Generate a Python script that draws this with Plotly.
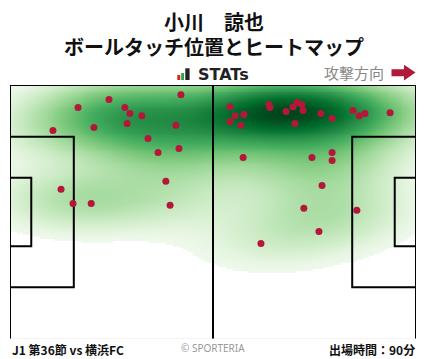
import numpy as np
import plotly.graph_objects as go

# ---- data: ball touch positions (pitch metres, x: 0-105 attacking right, y: 0-68 from top) ----
touch_x = [44.2, 17.6, 25.6, 29.7, 31.0, 34.1, 30.3, 21.7, 11.1, 42.9, 35.7, 43.7, 38.3,
           40.3, 13.2, 16.3, 21.0, 41.4,
           56.9, 58.2, 60.5, 56.9, 59.7, 67.0, 67.2, 71.4, 73.2, 74.2, 75.5, 75.8, 73.7,
           80.4, 83.3, 88.7, 90.3, 91.8, 98.3, 60.3, 78.1, 83.3, 83.3, 80.7, 76.0, 89.7,
           79.9, 64.9]
touch_y = [2.6, 6.0, 3.9, 6.0, 7.6, 8.2, 10.3, 11.4, 12.2, 10.8, 14.3, 17.0, 18.1,
           25.8, 27.9, 31.7, 31.7, 32.2,
           5.8, 8.2, 7.9, 9.8, 10.8, 5.2, 6.0, 7.1, 5.8, 4.7, 5.2, 6.8, 10.3,
           7.6, 9.0, 6.8, 8.2, 7.6, 7.4, 19.4, 19.4, 18.1, 20.2, 26.9, 33.0, 33.5,
           39.2, 42.4]

title_name = "小川　諒也"
title_sub = "ボールタッチ位置とヒートマップ"
match_label = "J1 第36節 vs 横浜FC"
minutes_label = "出場時間：90分"
credit_label = "© SPORTERIA"
direction_label = "攻撃方向"
logo_label = "STATs"

# pitch geometry (metres)
PL, PW = 105.0, 68.0
PEN_D, PEN_W = 16.5, 40.32
GA_D, GA_W = 5.5, 18.32

# ---- kernel density estimate (Scott's rule, full covariance) ----
X = np.array(touch_x)
Y = np.array(touch_y)
n = X.size
cov = np.cov(np.vstack([X, Y]))
kcov = cov * n ** (-2.0 / 6.0)
inv = np.linalg.inv(kcov)
det = np.linalg.det(kcov)
gx = np.linspace(0, PL, 211)
gy = np.linspace(0, PW, 137)
GX, GY = np.meshgrid(gx, gy)
dx = GX[..., None] - X
dy = GY[..., None] - Y
q = inv[0, 0] * dx * dx + 2 * inv[0, 1] * dx * dy + inv[1, 1] * dy * dy
dens = np.exp(-0.5 * q).sum(-1) / (n * 2 * np.pi * np.sqrt(det))
rel = dens / dens.max()
THRESH = 0.035
GAMMA = 0.65
zv = rel ** GAMMA
z = np.where(rel >= THRESH, zv, np.nan)
zmin = (THRESH ** GAMMA) * 0.6

greens = ["#f7fcf5", "#e5f5e0", "#c7e9c0", "#a1d99b", "#74c476",
          "#41ab5d", "#238b45", "#006d2c", "#00441b"]
cs = [[i / (len(greens) - 1), c] for i, c in enumerate(greens)]

fig = go.Figure()
fig.add_trace(go.Heatmap(x=gx, y=gy, z=z, colorscale=cs, zmin=zmin, zmax=1.0,
                         zsmooth="best", showscale=False, hoverinfo="skip"))

# pitch lines
lx, ly = [], []
def seg(pts):
    for p in pts:
        lx.append(p[0]); ly.append(p[1])
    lx.append(None); ly.append(None)

seg([(0, PW), (0, 0), (PL, 0), (PL, PW)])
seg([(PL / 2, 0), (PL / 2, PW)])
for side in (0, 1):
    for d, w in ((PEN_D, PEN_W), (GA_D, GA_W)):
        x0 = 0 if side == 0 else PL
        x1 = d if side == 0 else PL - d
        y0, y1 = (PW - w) / 2, (PW + w) / 2
        seg([(x0, y0), (x1, y0), (x1, y1), (x0, y1)])

fig.add_trace(go.Scatter(x=lx, y=ly, mode="lines", line=dict(color="black", width=2),
                         hoverinfo="skip", showlegend=False))
fig.add_trace(go.Scatter(x=[0, PL], y=[PW, PW], mode="lines",
                         line=dict(color="#e6e6e6", width=1), hoverinfo="skip", showlegend=False))

fig.add_trace(go.Scatter(x=touch_x, y=touch_y, mode="markers",
                         marker=dict(color="#b5173a", size=7, line=dict(width=0)),
                         showlegend=False))

# ---- layout helpers (pixel -> paper) ----
W, H = 428, 359
ML, MR, MT, MB = 10, 12, 85, 20
PWpx = W - ML - MR
PHpx = H - MT - MB
def px(x):
    return (x - ML) / PWpx
def py(y):
    return (H - MB - y) / PHpx

JP = "Noto Sans CJK JP"
ann = []
def text(t, x, y, size, color="#111", anchor="center", family=JP):
    ann.append(dict(text=t, x=px(x), y=py(y), xref="paper", yref="paper",
                    xanchor=anchor, yanchor="middle", showarrow=False,
                    font=dict(family=family, size=size, color=color)))

text("<b>" + title_name + "</b>", 214, 21, 20)
text("<b>" + title_sub + "</b>", 214, 46, 20)
text("<b>" + logo_label + "</b>", 196, 74, 16, color="#222", anchor="left", family="DejaVu Sans")
text(direction_label, 386, 72, 15, color="#888", anchor="right")
text("<b>" + match_label + "</b>", 10, 349, 12, anchor="left")
text(credit_label, 213, 348, 10, color="#999", family="Noto Sans")
text("<b>" + minutes_label + "</b>", 417, 349, 12, anchor="right")

shapes = []
def rect(x0, y0, x1, y1, color):
    shapes.append(dict(type="rect", xref="paper", yref="paper", x0=px(x0), x1=px(x1),
                       y0=py(y1), y1=py(y0), fillcolor=color, line=dict(width=0)))
rect(177.3, 75, 180.3, 80, "#e2231a")
rect(181.2, 73, 184.0, 80, "#22a847")
rect(185.3, 68.3, 189.6, 80, "#222222")

arrow = [(391.5, 69.2), (404, 69.2), (404, 64.8), (415.5, 72.6), (404, 80.6), (404, 76.2), (391.5, 76.2)]
path = "M " + " L ".join(f"{px(a):.5f},{py(b):.5f}" for a, b in arrow) + " Z"
shapes.append(dict(type="path", xref="paper", yref="paper", path=path,
                   fillcolor="#b0193a", line=dict(width=0)))

fig.update_layout(
    width=W, height=H, margin=dict(l=ML, r=MR, t=MT, b=MB),
    paper_bgcolor="white", plot_bgcolor="white",
    xaxis=dict(range=[0, PL], visible=False, fixedrange=True),
    yaxis=dict(range=[PW, 0], visible=False, fixedrange=True),
    annotations=ann, shapes=shapes, showlegend=False,
)
fig.write_html("out.html", config={"displayModeBar": False},
               post_script="document.documentElement.style.margin='0';"
                           "document.body.style.margin='0';"
                           "document.body.style.overflow='hidden';")
